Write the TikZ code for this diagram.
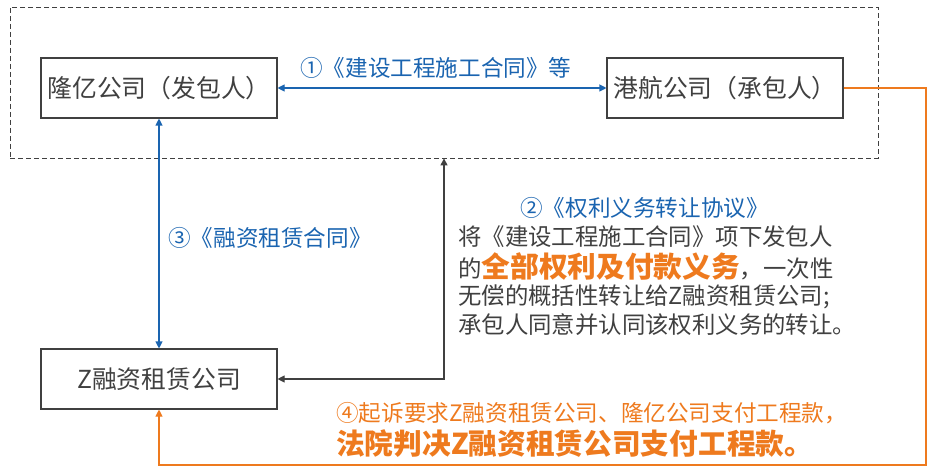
\documentclass[tikz,border=0pt]{standalone}
\usepackage{fontspec}
\setmainfont{Noto Sans CJK SC}
\usetikzlibrary{arrows.meta,positioning}
\definecolor{inkgrey}{HTML}{404040}
\definecolor{lineblue}{HTML}{1A64B0}
\definecolor{lineorange}{HTML}{EE7A1E}
\tikzset{
  co box/.style={draw=inkgrey, line width=1.1pt, minimum width=236pt, minimum height=60pt,
                 inner sep=0pt, text=inkgrey, font=\fontsize{24.8}{28}\selectfont},
  co group/.style={draw=inkgrey, line width=0.8pt, dash pattern=on 5pt off 3pt,
                   minimum width=868pt, minimum height=151pt, inner sep=0pt},
  co arr/.style={line width=1.1pt, {Triangle[length=7pt, width=7pt]}-{Triangle[length=7pt, width=7pt]}},
  co lab/.style={inner sep=0pt, anchor=west, text=lineblue, font=\fontsize{22.6}{25}\selectfont},
  co txt/.style={inner sep=0pt, anchor=west, text=inkgrey, font=\fontsize{23.4}{26}\selectfont},
  co hot/.style={inner sep=0pt, anchor=west, text=lineorange, font=\fontsize{22.6}{26}\selectfont},
}
\newcommand{\hotbig}[1]{{\fontsize{28.7}{30}\selectfont\bfseries\color{lineorange}#1}}

\begin{document}
\begin{tikzpicture}[x=1pt, y=1pt]
  \useasboundingbox (0,0) rectangle (931,-470);
  % the contract parties inside the dashed frame
  \node[co group] (grp) at (444,-82.5) {};
  \node[co box] (ly) at (159,-88) {隆亿公司（发包人）};
  \node[co box] (hk) at (725,-88) {港航公司（承包人）};
  \node[co box] (zr) at (159,-379) {Z融资租赁公司};
  % contracts between them
  \draw[co arr, lineblue] (ly) -- (hk);
  \node[co lab] (c1) at (300,-68) {①《建设工程施工合同》等};
  \draw[co arr, lineblue] (ly) -- (zr);
  \node[co lab] (c3) at (168,-238) {③《融资租赁合同》};
  \draw[co arr, inkgrey] (zr.east) -| (grp.south);
  \node[co lab] (c2) at (520,-208) {②《权利义务转让协议》};
  \node[co txt] (t1) at (458,-237) {将《建设工程施工合同》项下发包人};
  \node[co txt] (t2) at (458,-267) {的\hotbig{全部权利及付款义务}，一次性};
  \node[co txt] (t3) at (458,-297) {无偿的概括性转让给Z融资租赁公司;};
  \node[co txt] (t4) at (458,-325) {承包人同意并认同该权利义务的转让。};
  % the lawsuit
  \coordinate (rt) at (926,-465);
  \draw[line width=1.1pt, lineorange, -{Triangle[length=7pt, width=7pt]}] (hk.east) -| (rt) -| (zr.south);
  \node[co hot] (s1) at (336,-413) {④起诉要求Z融资租赁公司、隆亿公司支付工程款，};
  \node[co hot] (s2) at (336,-444) {\hotbig{法院判决Z融资租赁公司支付工程款。}};
\end{tikzpicture}
\end{document}
